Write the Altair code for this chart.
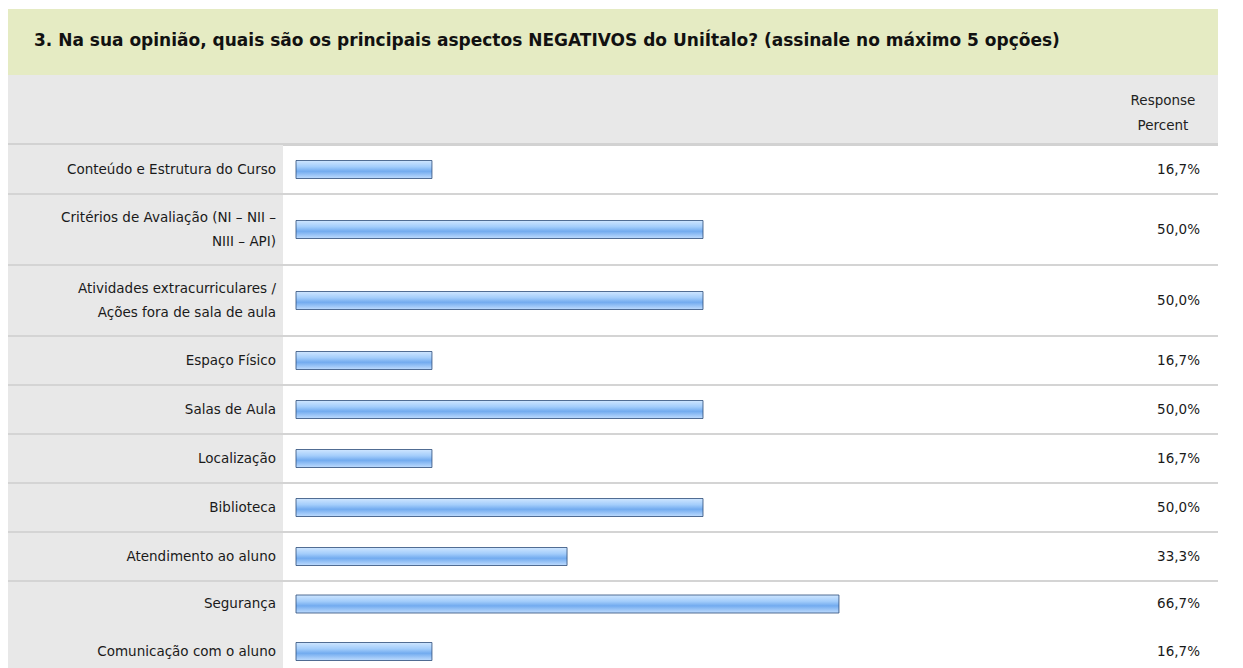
import altair as alt

# ---- data ----
title_text = "3. Na sua opinião, quais são os principais aspectos NEGATIVOS do UniÍtalo? (assinale no máximo 5 opções)"
header_lines = ["Response", "Percent"]
labels = [
    ["Conteúdo e Estrutura do Curso"],
    ["Critérios de Avaliação (NI – NII –", "NIII – API)"],
    ["Atividades extracurriculares /", "Ações fora de sala de aula"],
    ["Espaço Físico"],
    ["Salas de Aula"],
    ["Localização"],
    ["Biblioteca"],
    ["Atendimento ao aluno"],
    ["Segurança"],
    ["Comunicação com o aluno"],
]
percent = [16.7, 50.0, 50.0, 16.7, 50.0, 16.7, 50.0, 33.3, 66.7, 16.7]

# ---- layout (pixels inside the chart) ----
W, H = 1227, 660
TABLE_RIGHT = 1210
ROWS_TOP = 137
ONE_LINE, TWO_LINES = 49, 71
LINE_H = 24
BAR_H = 18
LABEL_FONT = "DejaVu Sans"
LABEL_SIZE = 13.5

rows = []
y = ROWS_TOP
for i, (lab, p) in enumerate(zip(labels, percent)):
    h = ONE_LINE if len(lab) == 1 else TWO_LINES
    if i == len(labels) - 2:
        h = 46
    c = y + h / 2
    rows.append({
        "label": lab,
        "pct": p,
        "pct_text": f"{p:.1f}".replace(".", ",") + "%",
        "top": y,
        "bottom": y + h,
        "center": c,
        "label_y": c - (len(lab) - 1) * LINE_H / 2,
        "bar_top": c - BAR_H / 2,
        "bar_bottom": c + BAR_H / 2,
        "sep": i < len(labels) - 2,
    })
    y += h

ysc = alt.Scale(domain=[0, H], range=[0, H], zero=False, nice=False)
xsc = alt.Scale(domain=[0, 100], range=[288, 1102], zero=False, nice=False)

one = alt.Data(values=[{}])
rowdata = alt.Data(values=rows)

title_band = alt.Chart(one).mark_rect(color="#e5ebc3").encode(
    x=alt.value(0), x2=alt.value(TABLE_RIGHT), y=alt.value(1), y2=alt.value(67))
title = alt.Chart(one).mark_text(
    text=title_text, align="left", baseline="middle", font="DejaVu Sans",
    fontWeight="bold", fontSize=17, color="#111111").encode(
    x=alt.value(26), y=alt.value(33))

header_band = alt.Chart(one).mark_rect(color="#e8e8e8").encode(
    x=alt.value(0), x2=alt.value(TABLE_RIGHT), y=alt.value(67), y2=alt.value(ROWS_TOP - 2))
header_line = alt.Chart(one).mark_rect(color="#d2d2d2").encode(
    x=alt.value(0), x2=alt.value(TABLE_RIGHT), y=alt.value(ROWS_TOP - 2), y2=alt.value(ROWS_TOP + 1))
header = alt.Chart(one).mark_text(
    text=header_lines, align="center", baseline="middle", lineHeight=25,
    font=LABEL_FONT, fontSize=LABEL_SIZE, color="#222222").encode(
    x=alt.value(1155), y=alt.value(93))

base = alt.Chart(rowdata)

left_col = base.mark_rect(color="#e8e8e8").encode(
    x=alt.value(0), x2=alt.value(275),
    y=alt.Y("top:Q", scale=ysc, axis=None), y2="bottom:Q")

seps = base.transform_filter("datum.sep").mark_rule(color="#d4d4d4", strokeWidth=2).encode(
    x=alt.value(0), x2=alt.value(TABLE_RIGHT),
    y=alt.Y("bottom:Q", scale=ysc, axis=None))

bar_fill = alt.Gradient(
    gradient="linear",
    stops=[alt.GradientStop(color="#cfe6ff", offset=0),
           alt.GradientStop(color="#a3cdfb", offset=0.35),
           alt.GradientStop(color="#72abef", offset=0.6),
           alt.GradientStop(color="#bfdcfe", offset=1)],
    x1=0, x2=0, y1=0, y2=1)

bars = base.mark_rect(color=bar_fill, stroke="#2c4b78", strokeWidth=1, strokeOpacity=0.8).encode(
    x=alt.X("pct:Q", scale=xsc, axis=None), x2=alt.datum(0),
    y=alt.Y("bar_top:Q", scale=ysc, axis=None), y2="bar_bottom:Q")

label_text = base.mark_text(
    align="right", baseline="middle", lineHeight=LINE_H,
    font=LABEL_FONT, fontSize=LABEL_SIZE, color="#1a1a1a").encode(
    x=alt.value(268), y=alt.Y("label_y:Q", scale=ysc, axis=None), text=alt.Text("label:N"))

pct_text = base.mark_text(
    align="right", baseline="middle",
    font=LABEL_FONT, fontSize=LABEL_SIZE, color="#1a1a1a").encode(
    x=alt.value(1192), y=alt.Y("center:Q", scale=ysc, axis=None), text=alt.Text("pct_text:N"))

chart = alt.layer(
    title_band, title, header_band, header_line, header,
    left_col, seps, bars, label_text, pct_text
).properties(
    width=W, height=H, padding=0, autosize=alt.AutoSizeParams(type="none"),
    background="#ffffff"
).configure_view(stroke=None)

chart.save("out.html", embed_options={"renderer": "svg", "actions": False})
